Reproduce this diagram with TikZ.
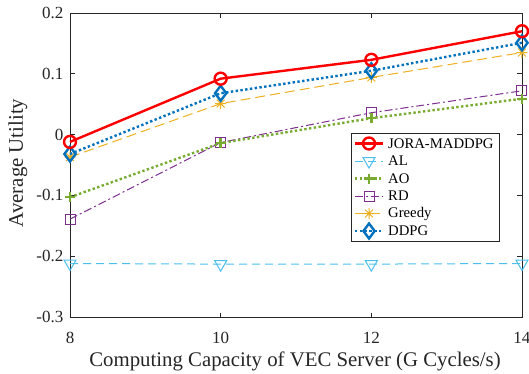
\documentclass[tikz,border=0pt]{standalone}
\usepackage{fontspec}
\setmainfont{Liberation Serif}
\usetikzlibrary{plotmarks}
\definecolor{cjora}{rgb}{1,0,0}
\definecolor{cal}{rgb}{0.30,0.75,0.93}
\definecolor{cao}{rgb}{0.47,0.67,0.19}
\definecolor{crd}{rgb}{0.49,0.18,0.56}
\definecolor{cgr}{rgb}{0.93,0.69,0.13}
\definecolor{cdd}{rgb}{0,0.447,0.741}
\definecolor{caxis}{rgb}{0.15,0.15,0.15}
\pgfdeclareplotmark{mstar}{%
  \pgfpathmoveto{\pgfqpoint{-\pgfplotmarksize}{0pt}}\pgfpathlineto{\pgfqpoint{\pgfplotmarksize}{0pt}}%
  \pgfpathmoveto{\pgfqpoint{0pt}{-\pgfplotmarksize}}\pgfpathlineto{\pgfqpoint{0pt}{\pgfplotmarksize}}%
  \pgfpathmoveto{\pgfqpoint{-0.707\pgfplotmarksize}{-0.707\pgfplotmarksize}}\pgfpathlineto{\pgfqpoint{0.707\pgfplotmarksize}{0.707\pgfplotmarksize}}%
  \pgfpathmoveto{\pgfqpoint{-0.707\pgfplotmarksize}{0.707\pgfplotmarksize}}\pgfpathlineto{\pgfqpoint{0.707\pgfplotmarksize}{-0.707\pgfplotmarksize}}%
  \pgfusepathqstroke}
\tikzset{
  axisline/.style={draw=caxis, line width=0.8pt},
  ticklab/.style={font=\fontsize{17}{17}\selectfont, text=caxis, inner sep=0pt},
  axlab/.style={font=\fontsize{20.8}{21}\selectfont, text=caxis, inner sep=0pt},
  legtext/.style={font=\fontsize{14.7}{15}\selectfont, text=black, anchor=west, inner sep=0pt},
  sjora/.style={draw=cjora, line width=2.4pt, mark=o, mark size=6pt, mark options={solid}},
  sal/.style={draw=cal, line width=1pt, dash pattern=on 8pt off 5pt, mark=triangle, mark size=7pt, mark options={solid, rotate=180}},
  sao/.style={draw=cao, line width=2.4pt, dash pattern=on 2.4pt off 2.4pt, mark=+, mark size=5pt, mark options={solid}},
  srd/.style={draw=crd, line width=1pt, dash pattern=on 8pt off 3pt on 2pt off 3pt, mark=square, mark size=5pt, mark options={solid}},
  sgr/.style={draw=cgr, line width=1pt, dash pattern=on 10pt off 5pt, mark=mstar, mark size=5.5pt, mark options={solid}},
  sdd/.style={draw=cdd, line width=2.4pt, dash pattern=on 2.4pt off 2.4pt, mark=diamond, mark size=7.5pt, mark options={solid}},
}
\begin{document}
\begin{tikzpicture}[x=1pt,y=1pt]
\useasboundingbox (0,0) rectangle (529,373);
\fill[white] (0,0) rectangle (529,373);
% data area
\begin{scope}[shift={(70,238.4)}, x=75.33pt, y=608pt]
  \coordinate (ll) at (0,-0.3);
  \coordinate (ur) at (6,0.2);
  % ticks
  \foreach \c in {2,4} {
    \draw[axisline] (\c,-0.3) -- ++(0,4.5pt);
    \draw[axisline] (\c,0.2) -- ++(0,-4.5pt);
  }
  \foreach \v in {-0.2,-0.1,0,0.1} {
    \draw[axisline] (0,\v) -- ++(4.5pt,0);
    \draw[axisline] (6,\v) -- ++(-4.5pt,0);
  }
  \draw[axisline] (ll) rectangle (ur);
  % tick labels
  \foreach \c/\t in {0/8,2/10,4/12,6/14}
    \node[ticklab] (xt\t) at ([yshift=-21pt]\c,-0.3) {\t};
  \foreach \v/\t in {0.2/0.2,0.1/0.1,0/0,-0.1/-0.1,-0.2/-0.2,-0.3/-0.3}
    \node[ticklab, anchor=east] at ([xshift=-6.5pt]0,\v) {\t};
  % curves
  \draw[sal] plot coordinates {(0,-0.212) (2,-0.213) (4,-0.213) (6,-0.212)};
  \draw[srd] plot coordinates {(0,-0.139) (2,-0.013) (4,0.036) (6,0.072)};
  \draw[sao] plot coordinates {(0,-0.103) (2,-0.014) (4,0.027) (6,0.059)};
  \draw[sgr] plot coordinates {(0,-0.037) (2,0.051) (4,0.094) (6,0.135)};
  \draw[sdd] plot coordinates {(0,-0.032) (2,0.068) (4,0.105) (6,0.151)};
  \draw[sjora] plot coordinates {(0,-0.012) (2,0.092) (4,0.123) (6,0.170)};
\end{scope}
% axis labels
\node[axlab, anchor=base] (xlab) at (295,6.5) {Computing Capacity of VEC Server (G Cycles/s)};
\node[axlab, rotate=90] (ylab) at (18,210) {Average Utility};
% legend
\draw[draw=caxis, line width=0.7pt, fill=white] (351,132) rectangle (499,240);
\foreach \y/\s/\t in {229.5/sjora/JORA-MADDPG, 212/sal/AL, 194.5/sao/AO, 177/srd/RD, 159.5/sgr/Greedy, 142/sdd/DDPG} {
  \draw[\s, mark=none] (355,\y) -- (383,\y);
  \draw[\s] plot[only marks] coordinates {(369,\y)};
  \node[legtext] at (388,\y) {\t};
}
\end{tikzpicture}
\end{document}
